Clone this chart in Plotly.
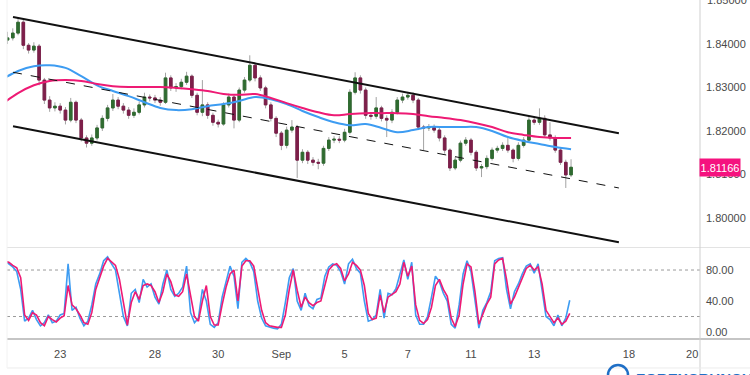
import pandas as pd
import plotly.graph_objects as go


def trading_times(start, end, freq):
    idx = pd.date_range(start, end, freq=freq)
    return idx[idx.dayofweek < 5]


# ---------------- data ----------------
candle_time = trading_times("2023-08-21 04:00", "2023-09-14 04:00", "4h")

OPEN = [1.8398, 1.8409, 1.8414, 1.8425, 1.8450, 1.8397, 1.8386, 1.8395, 1.8317, 1.8271,
        1.8253, 1.8257, 1.8248, 1.8225, 1.8266, 1.8225, 1.8184, 1.8172, 1.8184, 1.8207,
        1.8229, 1.8253, 1.8271, 1.8257, 1.8248, 1.8236, 1.8243, 1.8260, 1.8278, 1.8276,
        1.8271, 1.8266, 1.8322, 1.8299, 1.8302, 1.8312, 1.8326, 1.8282, 1.8243, 1.8260,
        1.8236, 1.8220, 1.8216, 1.8260, 1.8278, 1.8225, 1.8294, 1.8317, 1.8351, 1.8322,
        1.8299, 1.8260, 1.8229, 1.8195, 1.8167, 1.8202, 1.8209, 1.8133, 1.8151, 1.8133,
        1.8128, 1.8126, 1.8160, 1.8179, 1.8181, 1.8179, 1.8197, 1.8289, 1.8322, 1.8294,
        1.8236, 1.8234, 1.8253, 1.8229, 1.8225, 1.8243, 1.8271, 1.8278, 1.8282, 1.8271,
        1.8209, 1.8207, 1.8210, 1.8202, 1.8184, 1.8156, 1.8115, 1.8133, 1.8172, 1.8179,
        1.8151, 1.8115, 1.8118, 1.8137, 1.8156, 1.8160, 1.8167, 1.8156, 1.8137, 1.8167,
        1.8179, 1.8225, 1.8220, 1.8229, 1.8191, 1.8184, 1.8156, 1.8128, 1.8099]

HIGH = [1.8418, 1.8428, 1.8436, 1.8462, 1.8455, 1.8402, 1.8404, 1.8400, 1.8322, 1.8280,
        1.8266, 1.8264, 1.8255, 1.8276, 1.8270, 1.8230, 1.8190, 1.8192, 1.8214, 1.8236,
        1.8260, 1.8285, 1.8278, 1.8264, 1.8255, 1.8252, 1.8268, 1.8288, 1.8284, 1.8283,
        1.8278, 1.8334, 1.8328, 1.8310, 1.8320, 1.8336, 1.8330, 1.8288, 1.8317, 1.8266,
        1.8242, 1.8226, 1.8266, 1.8286, 1.8282, 1.8300, 1.8324, 1.8374, 1.8358, 1.8328,
        1.8304, 1.8266, 1.8234, 1.8200, 1.8210, 1.8225, 1.8214, 1.8158, 1.8156, 1.8140,
        1.8136, 1.8166, 1.8186, 1.8188, 1.8188, 1.8205, 1.8296, 1.8335, 1.8328, 1.8300,
        1.8242, 1.8278, 1.8258, 1.8236, 1.8250, 1.8278, 1.8286, 1.8290, 1.8289, 1.8276,
        1.8214, 1.8216, 1.8215, 1.8208, 1.8190, 1.8160, 1.8140, 1.8178, 1.8186, 1.8184,
        1.8156, 1.8124, 1.8144, 1.8162, 1.8166, 1.8174, 1.8184, 1.8160, 1.8174, 1.8186,
        1.8232, 1.8234, 1.8252, 1.8236, 1.8220, 1.8190, 1.8162, 1.8134, 1.8135]

LOW = [1.8388, 1.8400, 1.8408, 1.8420, 1.8388, 1.8378, 1.8380, 1.8305, 1.8262, 1.8244,
       1.8245, 1.8240, 1.8215, 1.8220, 1.8218, 1.8176, 1.8162, 1.8166, 1.8178, 1.8200,
       1.8222, 1.8246, 1.8250, 1.8240, 1.8228, 1.8230, 1.8238, 1.8254, 1.8268, 1.8264,
       1.8258, 1.8262, 1.8292, 1.8290, 1.8296, 1.8306, 1.8276, 1.8236, 1.8234, 1.8228,
       1.8212, 1.8208, 1.8212, 1.8254, 1.8206, 1.8220, 1.8288, 1.8312, 1.8314, 1.8292,
       1.8252, 1.8222, 1.8186, 1.8156, 1.8160, 1.8196, 1.8092, 1.8126, 1.8124, 1.8120,
       1.8112, 1.8120, 1.8154, 1.8172, 1.8172, 1.8174, 1.8192, 1.8284, 1.8286, 1.8228,
       1.8226, 1.8228, 1.8222, 1.8186, 1.8218, 1.8238, 1.8264, 1.8272, 1.8264, 1.8202,
       1.8156, 1.8200, 1.8196, 1.8176, 1.8148, 1.8108, 1.8110, 1.8128, 1.8166, 1.8144,
       1.8108, 1.8094, 1.8112, 1.8132, 1.8150, 1.8154, 1.8150, 1.8128, 1.8132, 1.8162,
       1.8174, 1.8214, 1.8214, 1.8184, 1.8178, 1.8150, 1.8122, 1.8069, 1.8094]

CLOSE = [1.8409, 1.8414, 1.8425, 1.8450, 1.8397, 1.8386, 1.8395, 1.8317, 1.8271, 1.8253,
         1.8257, 1.8248, 1.8225, 1.8266, 1.8225, 1.8184, 1.8172, 1.8184, 1.8207, 1.8229,
         1.8253, 1.8271, 1.8257, 1.8248, 1.8236, 1.8243, 1.8260, 1.8278, 1.8276, 1.8271,
         1.8266, 1.8322, 1.8299, 1.8302, 1.8312, 1.8326, 1.8282, 1.8243, 1.8260, 1.8236,
         1.8220, 1.8216, 1.8260, 1.8278, 1.8225, 1.8294, 1.8317, 1.8351, 1.8322, 1.8299,
         1.8260, 1.8229, 1.8195, 1.8167, 1.8202, 1.8209, 1.8133, 1.8151, 1.8133, 1.8128,
         1.8126, 1.8160, 1.8179, 1.8181, 1.8179, 1.8197, 1.8289, 1.8322, 1.8294, 1.8236,
         1.8234, 1.8253, 1.8229, 1.8225, 1.8243, 1.8271, 1.8278, 1.8282, 1.8271, 1.8209,
         1.8207, 1.8210, 1.8202, 1.8184, 1.8156, 1.8115, 1.8133, 1.8172, 1.8179, 1.8151,
         1.8115, 1.8118, 1.8137, 1.8156, 1.8160, 1.8167, 1.8156, 1.8137, 1.8167, 1.8179,
         1.8225, 1.8220, 1.8229, 1.8191, 1.8184, 1.8156, 1.8128, 1.8099, 1.81166]

ma_time = trading_times("2023-08-21 04:00", "2023-09-14 04:00", "12h")
MA_FAST = [1.8319, 1.8338, 1.8349, 1.8351, 1.8345, 1.8326, 1.8305, 1.8292, 1.8280, 1.8266,
           1.8253, 1.8248, 1.8250, 1.8257, 1.8262, 1.8269, 1.8278, 1.8273, 1.8262, 1.8246,
           1.8232, 1.8220, 1.8213, 1.8216, 1.8207, 1.8197, 1.8202, 1.8209, 1.8209, 1.8209,
           1.8209, 1.8200, 1.8186, 1.8177, 1.8170, 1.8163, 1.8158]
MA_SLOW = [1.8262, 1.8287, 1.8305, 1.8315, 1.8317, 1.8315, 1.8308, 1.8303, 1.8301, 1.8301,
           1.8301, 1.8299, 1.8296, 1.8292, 1.8285, 1.8283, 1.8285, 1.8276, 1.8264, 1.8253,
           1.8243, 1.8236, 1.8239, 1.8241, 1.8241, 1.8241, 1.8239, 1.8234, 1.8230, 1.8225,
           1.8218, 1.8209, 1.8197, 1.8191, 1.8186, 1.8184, 1.8184]

# channel (trend lines): [start, end]
CH_TIME = ["2023-08-21 12:10", "2023-09-15 16:20"]
CH_UPPER = [1.8462, 1.8195]
CH_MIDDLE = [1.8335, 1.8069]
CH_LOWER = [1.8211, 1.7944]

stoch_time = trading_times("2023-08-21 06:00", "2023-09-14 03:00", "3h")
STOCH_D = [91, 90, 86, 83, 70, 22,
           15, 25, 22, 12, 8, 20, 16, 13,
           18, 21, 60, 35, 30, 22, 12, 10,
           25, 55, 70, 85, 95, 90, 86, 68,
           37, 9, 38, 52, 42, 60, 62, 60,
           52, 38, 52, 75, 65, 48, 46, 52,
           75, 45, 20, 14, 40, 60, 20, 9,
           9, 35, 58, 75, 80, 40, 85, 92,
           92, 85, 55, 28, 12, 8, 7, 6,
           6, 22, 55, 80, 54, 32, 45, 38,
           34, 38, 40, 60, 80, 86, 88, 82,
           66, 75, 90, 86, 80, 60, 24, 16,
           18, 48, 25, 45, 48, 52, 62, 90,
           72, 85, 35, 15, 11, 16, 32, 60,
           68, 55, 46, 18, 7, 22, 62, 88,
           84, 52, 10, 22, 36, 45, 88, 93,
           95, 68, 36, 45, 58, 70, 82, 86,
           80, 84, 62, 28, 20, 12, 18, 10,
           14, 24]
STOCH_K = [92, 88, 84, 78, 55, 14,
           18, 28, 16, 8, 12, 22, 12, 14,
           22, 24, 88, 28, 32, 18, 8, 14,
           35, 62, 75, 92, 97, 88, 80, 50,
           20, 8, 50, 55, 38, 68, 58, 62,
           45, 36, 62, 80, 55, 46, 50, 58,
           85, 25, 12, 18, 55, 40, 10, 6,
           12, 45, 65, 85, 72, 30, 90, 95,
           90, 78, 40, 18, 8, 6, 5, 4,
           10, 38, 70, 82, 40, 28, 50, 34,
           30, 42, 44, 72, 84, 88, 86, 78,
           62, 88, 94, 82, 76, 40, 14, 16,
           22, 55, 18, 50, 48, 56, 75, 93,
           68, 90, 22, 10, 10, 20, 45, 72,
           65, 50, 40, 10, 5, 35, 75, 92,
           78, 40, 5, 28, 38, 52, 92, 95,
           96, 55, 30, 52, 62, 75, 85, 88,
           76, 88, 55, 20, 16, 8, 22, 8,
           18, 41]
STOCH_LEVELS = [80, 20]

PRICE_TICKS = [1.80, 1.81, 1.82, 1.83, 1.84]
PRICE_TOP_TICK = 1.85
STOCH_TICKS = [0, 40, 80]
X_TICK_DATES = ["2023-08-23", "2023-08-28", "2023-08-30", "2023-09-01", "2023-09-05",
                "2023-09-07", "2023-09-11", "2023-09-13", "2023-09-18", "2023-09-20"]
X_TICK_TEXT = ["23", "28", "30", "Sep", "5", "7", "11", "13", "18", "20"]
X_RANGE = ["2023-08-21 07:36", "2023-09-20 05:56"]

# ---------------- styles ----------------
FONT = "Liberation Sans Narrow, Arial Narrow, Liberation Sans, sans-serif"
TXT = "#4a4a4a"
BLUE = "#3d9cf2"
PINK = "#ee1a74"
UP = "#2f6b30"
DOWN = "#7d1f4a"
WICK = "#a3a3a3"

fig = go.Figure()

# wicks
fig.add_trace(go.Candlestick(
    x=candle_time, open=OPEN, high=HIGH, low=LOW, close=CLOSE,
    increasing=dict(line=dict(color=WICK, width=1), fillcolor=WICK),
    decreasing=dict(line=dict(color=WICK, width=1), fillcolor=WICK),
    xaxis="x", yaxis="y", showlegend=False, hoverinfo="skip"))
# bodies
body_hi = [max(o, c) for o, c in zip(OPEN, CLOSE)]
body_lo = [min(o, c) for o, c in zip(OPEN, CLOSE)]
fig.add_trace(go.Candlestick(
    x=candle_time, open=OPEN, high=body_hi, low=body_lo, close=CLOSE,
    increasing=dict(line=dict(color=UP, width=1), fillcolor=UP),
    decreasing=dict(line=dict(color=DOWN, width=1), fillcolor=DOWN),
    xaxis="x", yaxis="y", showlegend=False, hoverinfo="skip"))

fig.add_trace(go.Scatter(x=ma_time, y=MA_FAST, mode="lines", line=dict(color=BLUE, width=2, shape="spline"),
                         xaxis="x", yaxis="y", showlegend=False))
fig.add_trace(go.Scatter(x=ma_time, y=MA_SLOW, mode="lines", line=dict(color=PINK, width=2, shape="spline"),
                         xaxis="x", yaxis="y", showlegend=False))

for vals, dash, w in [(CH_UPPER, "solid", 2), (CH_LOWER, "solid", 2), (CH_MIDDLE, "dash", 1)]:
    fig.add_trace(go.Scatter(x=CH_TIME, y=vals, mode="lines", line=dict(color="#111111", width=w, dash=dash),
                             xaxis="x", yaxis="y", showlegend=False))

# stochastic
for lvl in STOCH_LEVELS:
    fig.add_trace(go.Scatter(x=X_RANGE, y=[lvl, lvl], mode="lines",
                             line=dict(color="#9a9a9a", width=1, dash="dot"),
                             xaxis="x2", yaxis="y2", showlegend=False))
fig.add_trace(go.Scatter(x=stoch_time, y=STOCH_K, mode="lines", line=dict(color=BLUE, width=1.6),
                         xaxis="x2", yaxis="y2", showlegend=False))
fig.add_trace(go.Scatter(x=stoch_time, y=STOCH_D, mode="lines", line=dict(color=PINK, width=1.6),
                         xaxis="x2", yaxis="y2", showlegend=False))

rb = [dict(bounds=["sat", "mon"])]
common_x = dict(type="date", range=X_RANGE, rangebreaks=rb, showgrid=False, zeroline=False,
                showline=False, rangeslider=dict(visible=False), fixedrange=True)

fig.update_layout(
    width=750, height=375,
    margin=dict(l=7, r=50, t=0, b=36),
    paper_bgcolor="white", plot_bgcolor="white",
    font=dict(family=FONT, size=11, color=TXT),
    xaxis=dict(**common_x, anchor="y", showticklabels=False, ticks=""),
    xaxis2=dict(**common_x, anchor="y2", tickmode="array", tickvals=X_TICK_DATES, ticktext=X_TICK_TEXT,
                ticks="", ticklabelstandoff=7, tickfont=dict(family=FONT, size=11, color=TXT)),
    yaxis=dict(domain=[0.2714, 1], range=[1.79333, 1.85011], side="right", anchor="x",
               tickmode="array", tickvals=PRICE_TICKS, tickformat=".5f", ticks="",
               showgrid=False, zeroline=False, showline=False,
               tickfont=dict(family=FONT, size=11, color=TXT), ticklabelstandoff=5),
    yaxis2=dict(domain=[0, 0.2684], range=[-9, 108.4], side="right", anchor="x2",
                tickmode="array", tickvals=STOCH_TICKS, tickformat=".2f", ticks="",
                showgrid=False, zeroline=False, showline=False,
                tickfont=dict(family=FONT, size=11, color=TXT), ticklabelstandoff=5),
    showlegend=False,
)

# frame / separators (paper coords)
right_edge = (750 - 7) / 693
shapes = [
    dict(type="line", xref="paper", yref="paper", x0=0, x1=right_edge, y0=0.2699, y1=0.2699,
         line=dict(color="#e3e3e3", width=1)),
    dict(type="line", xref="paper", yref="paper", x0=0, x1=right_edge, y0=0, y1=0,
         line=dict(color="#8c8c8c", width=1.2)),
    dict(type="line", xref="paper", yref="paper", x0=1, x1=1, y0=-0.11, y1=1,
         line=dict(color="#cfcfcf", width=1)),
    dict(type="line", xref="paper", yref="paper", x0=0, x1=right_edge, y0=-0.0855, y1=-0.0855,
         line=dict(color="#ececec", width=1)),
    dict(type="line", xref="paper", yref="paper", x0=0, x1=0, y0=-0.0855, y1=1,
         line=dict(color="#f2f2f2", width=1)),
    dict(type="circle", xref="paper", yref="paper", x0=(608 - 7) / 693, x1=(628 - 7) / 693,
         y0=(339 - 385) / 339, y1=(339 - 365) / 339, line=dict(color="#1f6fc6", width=2.5)),
]
fig.update_layout(shapes=shapes)

# top price tick (partly cut by the top edge, as in the reference)
fig.add_annotation(x=1, xref="paper", xanchor="left", xshift=5, y=PRICE_TOP_TICK, yref="y", yanchor="middle",
                   text=f"{PRICE_TOP_TICK:.5f}", showarrow=False,
                   font=dict(family=FONT, size=11, color=TXT))

last = CLOSE[-1]
fig.add_annotation(x=1, xref="paper", xanchor="left", xshift=-1, y=last, yref="y", yanchor="middle",
                   text=f"{last:.5f}", showarrow=False, bgcolor="#f5127f", width=38, height=15,
                   font=dict(family=FONT, size=11, color="white"), borderpad=1)
fig.add_annotation(x=(634 - 7) / 693, xref="paper", xanchor="left", y=(339 - 368) / 339, yref="paper",
                   yanchor="top", text="<b>FOREXCRUNCH</b>", showarrow=False,
                   font=dict(family="Liberation Sans, Arial, sans-serif", size=15, color="#1f6fc6"))

fig.write_html("out.html")
